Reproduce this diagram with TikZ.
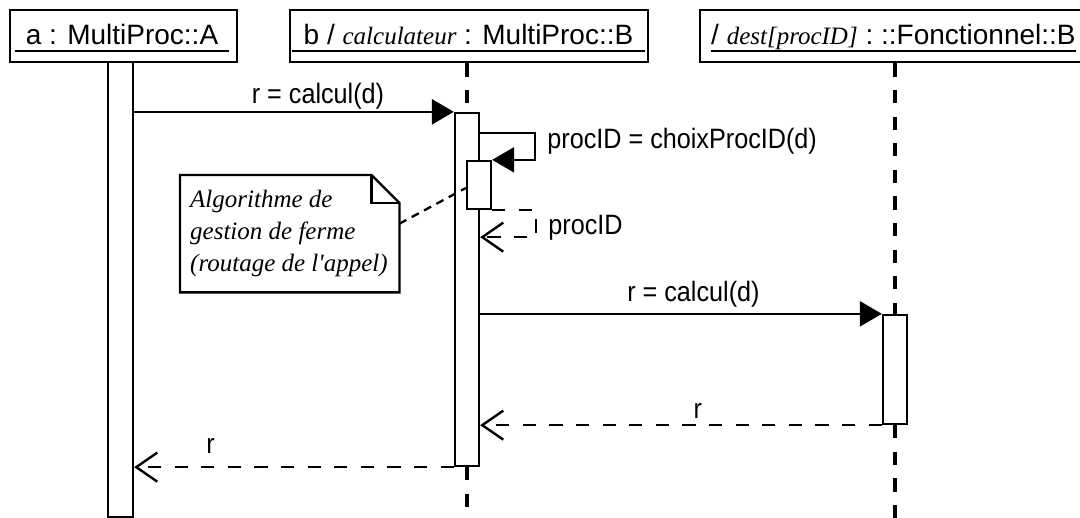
\documentclass[tikz,border=0pt]{standalone}
\usepackage{fontspec}
\setmainfont{Liberation Sans}
\newfontfamily\lblfont[FakeStretch=0.9]{Liberation Sans}
\newfontfamily\notefont{Liberation Serif}
\usetikzlibrary{arrows.meta,calc}
\newcommand{\hdsize}{\fontsize{28}{32}\selectfont}
\newcommand{\rolename}[1]{{\notefont\itshape\fontsize{25}{30}\selectfont #1}}

\begin{document}
\begin{tikzpicture}[x=1pt,y=-1pt,
  head/.style={draw,line width=2.8pt,minimum height=52pt,inner sep=0pt},
  headtxt/.style={font=\hdsize,anchor=base,inner xsep=10.5pt,inner ysep=6pt,text depth=0pt},
  bar/.style={draw,fill=white,line width=2.3pt,inner sep=0pt,minimum width=24pt},
  lifeline/.style={line width=4pt,dash pattern=on 13.3pt off 13.3pt},
  call/.style={-{Triangle[length=22pt,width=25pt]},line width=2.4pt},
  reply/.style={-{Straight Barb[length=21pt,width=29pt]},line width=2.4pt,dash pattern=on 13.3pt off 13.3pt},
  lbl/.style={font={\lblfont\fontsize{28}{32}\selectfont},inner sep=0pt},
  notebox/.style={line width=2.3pt,fill=white},
  noteline/.style={line width=2.3pt,dash pattern=on 8pt off 6pt}]
  \useasboundingbox (0,0) rectangle (1080,518);
  \clip (0,0) rectangle (1080,518);
  \fill[white] (0,0) rectangle (1080,518);
  % objects
  \node[head,minimum width=227pt] (hdA) at (123.5,36) {};
  \node[head,minimum width=358pt] (hdB) at (469,36) {};
  \node[head,minimum width=395pt] (hdC) at (897.5,36) {};
  \node[headtxt] (nmA) at (122,45) {a : MultiProc::A};
  \node[headtxt,inner xsep=11pt] (nmB) at (468.5,45) {b / \rolename{calculateur} : MultiProc::B};
  \node[headtxt,anchor=base west,inner xsep=0pt] (nmC) at (711,45) {/ \rolename{dest[procID]} : ::Fonctionnel::B};
  \foreach \n in {nmA,nmB,nmC}
    \draw[line width=2.2pt] (\n.south west) -- (\n.south east);
  % lifelines
  \coordinate (endB) at (467,530);
  \coordinate (endC) at (895,530);
  \node[bar,minimum width=25pt,minimum height=455pt] (barA) at (120.5,289.5) {};
  \node[bar,minimum height=353pt] (barB) at (467,289.5) {};
  \node[bar,minimum height=109pt] (barC) at (895,369.5) {};
  \draw[lifeline] (barB |- hdB.south) -- (barB.north);
  \draw[lifeline] (barB.south) -- (endB);
  \draw[lifeline] (barC |- hdC.south) -- (barC.north);
  \draw[lifeline] (barC.south) -- (endC);
  \node[bar,minimum height=353pt] at (barB) {};
  \node[bar,minimum height=109pt] at (barC) {};
  \node[bar,minimum height=48pt] (barB2) at (479,185) {};
  % messages
  \draw[call] (barA.east |- barB.north) -- node[lbl,pos=0.575,anchor=base,yshift=8pt]{r = calcul(d)} (barB.north west);
  \draw[call] ([yshift=-21pt]barB.north east) -- ++(55,0) |- node[lbl,pos=0.25,anchor=west,xshift=11pt,yshift=5pt]{procID = choixProcID(d)} (barB2.north east);
  \coordinate (rp) at ([yshift=-27pt]barB2.south);
  \draw[reply] (barB2.south east) -- ++(44,0) |- node[lbl,pos=0.25,anchor=west,xshift=11pt,yshift=-4pt]{procID} (rp -| barB.east);
  \draw[call] (barB.east |- barC.north) -- node[lbl,pos=0.531,anchor=base,yshift=12pt]{r = calcul(d)} (barC.north west);
  \draw[reply] (barC.south west) -- node[lbl,pos=0.458,anchor=base,yshift=7pt]{r} (barC.south west -| barB.east);
  \draw[reply] (barB.south west) -- node[lbl,pos=0.761,anchor=base,yshift=14pt]{r} (barB.south west -| barA.east);
  % note
  \node[minimum width=219pt,minimum height=117pt,inner sep=0pt,anchor=north west] (note) at (180,175) {};
  \draw[notebox] (note.north west) -- ([xshift=-28pt]note.north east) -- ([yshift=-28pt]note.north east) -- (note.south east) -- (note.south west) -- cycle;
  \draw[line width=2.3pt] ([xshift=-28pt]note.north east) |- ([yshift=-28pt]note.north east);
  \node[anchor=north west,align=left,inner sep=0pt,font={\notefont\itshape\fontsize{25}{32}\selectfont}] (notetxt) at (190,190) {Algorithme de\\gestion de ferme\\(routage de l'appel)};
  \draw[noteline] ([yshift=10pt]note.east) -- ([yshift=-3pt]barB2.west);
\end{tikzpicture}
\end{document}
